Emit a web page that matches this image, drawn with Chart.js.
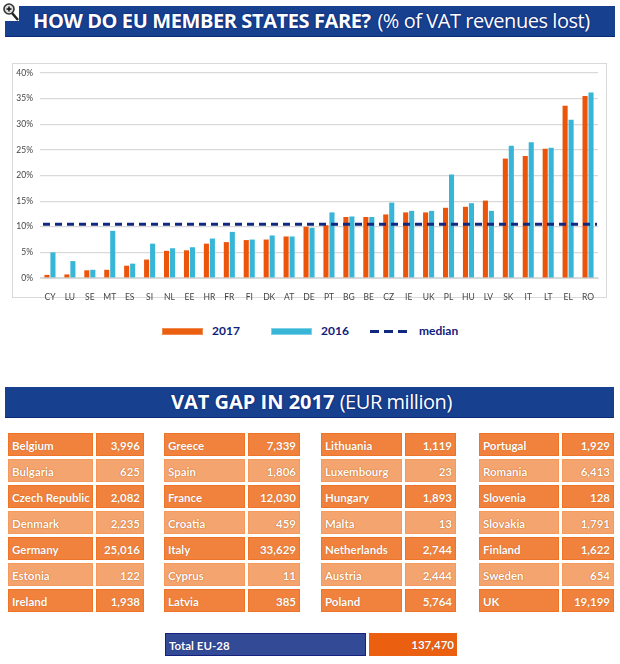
<!DOCTYPE html>
<html>
<head>
<meta charset="utf-8">
<script src="https://cdn.jsdelivr.net/npm/chart.js@4"></script>
<style>
    html, body { margin: 0; padding: 0; background: #fff; }
    body { position: relative; width: 620px; height: 664px; overflow: hidden; font-family: Lato, sans-serif; }
    .banner { position: absolute; left: 5px; width: 610px; height: 31px; background: #17418f; color: #fff;
        font-family: "Open Sans", sans-serif; box-sizing: border-box; border-bottom: 1px solid #0a2a7a; white-space: nowrap;
        line-height: 30px; font-size: 20px; text-shadow: 0 0 2px #06156b; }
    .banner b { font-weight: 700; }
    .tight { letter-spacing: -0.45px; }
    .frame { position: absolute; left: 12px; top: 63px; width: 595px; height: 235px; border: 1px solid #d9d9d9; box-sizing: border-box; }
    canvas { position: absolute; left: 0; top: 60px; }
    .legend { position: absolute; color: #10207a; font-size: 12px; font-weight: 700; line-height: 14px; }
    .swatch { position: absolute; width: 41px; height: 7px; box-sizing: border-box; }
    .dash { position: absolute; top: 330px; height: 3px; width: 9px; background: #10287f; }
    .cell { position: absolute; height: 23px; box-sizing: border-box; color: #fff; font-size: 11.5px; font-weight: 700;
        line-height: 23px; padding: 0 3px; white-space: nowrap; text-shadow: 0 0 1px #b9500f; }
    .dark { background: #f0823e; border: 1px solid #ee7428; }
    .light { background: #f4a46e; border: 1px solid #f59a5c; text-shadow: 0 0 1px #c9601c, 0 0 1px #c9601c; }
    .num { text-align: right; }
    .total { background: #334a96; border: 1px solid #15207f; text-shadow: 0 0 1px #101a70; }
    .totalNum { background: #eb5f10; text-shadow: 0 0 1px #a03c00; }
    #icon { position: absolute; left: 2px; top: 2px; width: 17px; height: 19px; background: #fff; }
</style>
</head>
<body>
<div class="banner tight" style="top:6px;padding-left:28px"><b style="letter-spacing:-0.4px">HOW DO EU MEMBER STATES FARE?</b> <span style="margin-left:2px">(% of VAT revenues lost)</span></div>
<svg id="icon" viewBox="0 0 17 19">
    <line x1="10" y1="11" x2="16" y2="18" stroke="#222" stroke-width="2.5"/>
    <circle cx="7" cy="7" r="5" fill="#ddd" stroke="#333" stroke-width="1.6"/>
    <path d="M4.5 7h5M7 4.5v5" stroke="#111" stroke-width="1.5"/>
</svg>
<div class="frame"></div>
<canvas id="chart1" width="620" height="245"></canvas>

<div class="swatch" style="left:162px;top:328px;background:#eb5f10;border:1px solid #f08a50"></div>
<div class="legend" style="left:212px;top:324px">2017</div>
<div class="swatch" style="left:271px;top:328px;background:#38b6d8;border:1px solid #7fd2e8"></div>
<div class="legend" style="left:321px;top:324px">2016</div>
<div class="dash" style="left:370px"></div>
<div class="dash" style="left:384px"></div>
<div class="dash" style="left:398px"></div>
<div class="legend" style="left:419px;top:324px">median</div>

<div class="banner" style="top:387px;width:609px;padding-left:166px"><b>VAT GAP IN 2017</b> <span class="tight">(EUR million)</span></div>
<div id="table"></div>

<script>
const countries = ['CY', 'LU', 'SE', 'MT', 'ES', 'SI', 'NL', 'EE', 'HR', 'FR', 'FI', 'DK', 'AT', 'DE',
    'PT', 'BG', 'BE', 'CZ', 'IE', 'UK', 'PL', 'HU', 'LV', 'SK', 'IT', 'LT', 'EL', 'RO'];
const gap2017 = [0.6, 0.7, 1.5, 1.6, 2.4, 3.6, 5.3, 5.4, 6.7, 7.0, 7.4, 7.5, 8.1, 10.0,
    10.3, 11.9, 11.9, 12.4, 12.8, 12.8, 13.7, 13.9, 15.1, 23.3, 23.8, 25.2, 33.6, 35.5];
const gap2016 = [5.0, 3.3, 1.6, 9.2, 2.8, 6.7, 5.8, 6.0, 7.7, 9.0, 7.5, 8.3, 8.1, 9.8,
    12.8, 12.0, 11.9, 14.7, 13.1, 13.1, 20.2, 14.6, 13.1, 25.8, 26.5, 25.4, 30.9, 36.2];
const median = 10.5;

const tableNames = ['Belgium', 'Bulgaria', 'Czech Republic', 'Denmark', 'Germany', 'Estonia', 'Ireland',
    'Greece', 'Spain', 'France', 'Croatia', 'Italy', 'Cyprus', 'Latvia',
    'Lithuania', 'Luxembourg', 'Hungary', 'Malta', 'Netherlands', 'Austria', 'Poland',
    'Portugal', 'Romania', 'Slovenia', 'Slovakia', 'Finland', 'Sweden', 'UK'];
const tableValues = ['3,996', '625', '2,082', '2,235', '25,016', '122', '1,938',
    '7,339', '1,806', '12,030', '459', '33,629', '11', '385',
    '1,119', '23', '1,893', '13', '2,744', '2,444', '5,764',
    '1,929', '6,413', '128', '1,791', '1,622', '654', '19,199'];

// x, name width, value x, value width of each table column
const columns = [[8, 85, 96, 48], [164, 81, 248, 52], [321, 81, 405, 51], [479, 80, 562, 52]];

function addCell(text, cls, x, y, w) {
    const el = document.createElement('div');
    el.className = 'cell ' + cls;
    el.textContent = text;
    el.style.left = x + 'px';
    el.style.top = y + 'px';
    el.style.width = w + 'px';
    document.getElementById('table').appendChild(el);
}

tableNames.forEach((name, i) => {
    const col = columns[Math.floor(i / 7)];
    const row = i % 7;
    const y = 433 + row * 26;
    const shade = row % 2 === 0 ? 'dark' : 'light';
    addCell(name, shade, col[0], y, col[1]);
    addCell(tableValues[i], shade + ' num', col[2], y, col[3]);
});
addCell('Total EU-28', 'total', 165, 633, 201);
addCell('137,470', 'totalNum num', 369, 633, 88);

// The median runs past the first and last bars, so it is stroked across the plot area
const medianLine = {
    id: 'medianLine',
    afterDatasetsDraw(chart) {
        const { ctx, chartArea } = chart;
        const y = chart.scales.y.getPixelForValue(median);
        ctx.save();
        ctx.strokeStyle = '#10287f';
        ctx.lineWidth = 3;
        ctx.setLineDash([7, 5]);
        ctx.beginPath();
        ctx.moveTo(chartArea.left + 3, y);
        ctx.lineTo(chartArea.right - 1, y);
        ctx.stroke();
        ctx.restore();
    }
};

new Chart(document.getElementById('chart1'), {
    type: 'bar',
    plugins: [medianLine],
    data: {
        labels: countries,
        datasets: [
            { label: '2017', data: gap2017, backgroundColor: '#eb5409',
                categoryPercentage: 0.6, barPercentage: 0.85 },
            { label: '2016', data: gap2016, backgroundColor: '#38b6d8',
                categoryPercentage: 0.6, barPercentage: 0.85 }
        ]
    },
    options: {
        responsive: false,
        animation: false,
        layout: { padding: { left: 0, right: 22, top: 13, bottom: 0 } },
        plugins: { legend: { display: false }, tooltip: { enabled: false } },
        scales: {
            x: {
                grid: { display: false },
                border: { color: '#d9d9d9' },
                ticks: { color: '#444', font: { size: 8.5, family: 'Lato' }, padding: 6, maxRotation: 0, autoSkip: false },
                afterFit: scale => { scale.height = 27; }
            },
            y: {
                min: 0,
                max: 40,
                grid: { color: '#d9d9d9', lineWidth: 1.2, drawTicks: false },
                border: { display: false },
                ticks: { stepSize: 5, color: '#444', font: { size: 8.5, family: 'Lato' }, padding: 7, callback: v => v + '%' },
                afterFit: scale => { scale.width = 40; }
            }
        }
    }
});
</script>
</body>
</html>
